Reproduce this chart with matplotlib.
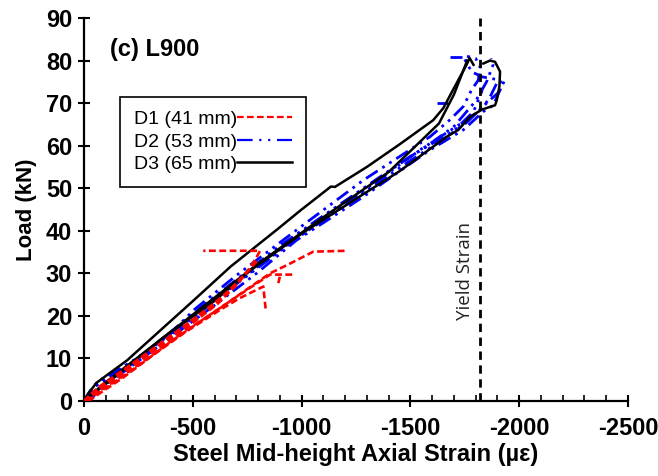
import numpy as np
import matplotlib
matplotlib.use("Agg")
import matplotlib.pyplot as plt
from matplotlib.ticker import MultipleLocator

plt.rcParams['font.family'] = ['Liberation Sans', 'DejaVu Sans']
plt.rcParams['axes.unicode_minus'] = False

# ---------------- data (strain in micro-strain, load in kN) ----------------
# D3 (65 mm) - black
d3_up_s = [0, -20, -58, -199, -505, -674, -885, -1000, -1115, -1135, -1153, -1300, -1450, -1605, -1651, -1700, -1760, -1772, -1790]
d3_up_L = [0, 1.8, 4.3, 9.6, 23.7, 31.6, 40.2, 45.0, 49.6, 50.4, 50.3, 55.0, 60.3, 66.0, 68.8, 73.5, 79.2, 80.6, 79.0]
d3_lo_s = [0, -100, -368, -594, -763, -1008, -1253, -1450, -1667, -1720, -1774, -1830, -1889, -1897, -1909, -1912, -1889, -1866, -1835]
d3_lo_L = [0, 4.0, 15.1, 23.3, 30.6, 39.6, 47.6, 54.0, 62.1, 63.7, 66.8, 68.5, 69.5, 70.7, 73.9, 77.4, 79.7, 80.0, 79.3]
d3_mid_s = [0, -90, -400, -793, -1100, -1400, -1631, -1700, -1761]
d3_mid_L = [0, 4.0, 16.3, 32.0, 43.2, 53.8, 65.2, 72.0, 80.0]

# D2 (53 mm) - blue
d2_a_s = [0, -30, -61, -230, -383, -505, -700, -977, -1284, -1590, -1680, -1743, -1781, -1812, -1820, -1800, -1760]
d2_a_L = [0, 2.5, 4.5, 9.6, 15.1, 21.4, 29.5, 40.2, 51.9, 62.1, 66.0, 69.2, 73.1, 75.4, 78.6, 80.5, 81.0]
d2_b_s = [-30, -60, -200, -400, -600, -793, -977, -1284, -1590, -1743, -1835, -1881, -1919, -1912, -1827, -1781, -1743]
d2_b_L = [0, 2.5, 7.5, 15.0, 22.5, 30.0, 37.8, 48.0, 59.0, 63.7, 68.0, 69.5, 73.9, 75.4, 76.2, 77.4, 80.9]
d2_c_s = [0, -50, -250, -500, -800, -1100, -1400, -1600, -1700, -1800, -1850, -1880, -1870]
d2_c_L = [0, 3.5, 10.0, 20.5, 32.5, 43.5, 54.0, 60.8, 64.5, 70.5, 75.0, 79.0, 80.5]
d2_d_s = [-10, -150, -450, -900, -1200, -1500, -1650, -1760, -1850, -1905, -1935, -1921]
d2_d_L = [0, 6.0, 18.0, 35.5, 46.0, 56.5, 61.5, 65.5, 70.0, 72.5, 75.5, 74.7]
d2_e_s = [0, -40, -300, -600, -900, -1200, -1500, -1700, -1790, -1830]
d2_e_L = [0, 3.0, 12.0, 24.0, 36.5, 47.0, 57.5, 63.5, 68.0, 73.0]
d2_f_s = [-20, -120, -350, -700, -1000, -1300, -1550, -1720, -1800, -1860, -1900]
d2_f_L = [0, 5.0, 13.5, 27.5, 39.0, 50.0, 59.2, 64.8, 67.5, 70.8, 75.0]
d2_h1_s = [-1620, -1673]
d2_h1_L = [70.0, 70.0]
d2_h2_s = [-1680, -1737]
d2_h2_L = [80.9, 80.9]

# D1 (41 mm) - red
d1_a_s = [0, -30, -153, -306, -460, -613, -700, -748, -790, -809, -548]
d1_a_L = [0, 1.5, 5.7, 11.2, 16.8, 22.8, 27.2, 30.2, 33.5, 35.3, 35.3]
d1_b_s = [0, -150, -306, -460, -625, -750, -855, -947, -1054, -1207]
d1_b_L = [0, 5.0, 10.5, 16.3, 21.8, 26.3, 30.0, 32.3, 35.1, 35.3]
d1_c_s = [-20, -180, -400, -600, -760, -855, -970]
d1_c_L = [0, 5.5, 14.0, 21.0, 26.5, 29.7, 29.7]
d1_c2_s = [-900, -893]
d1_c2_L = [29.2, 27.7]
d1_d_s = [-10, -200, -460, -625, -717, -824, -836]
d1_d_L = [0, 6.5, 16.0, 21.4, 24.2, 26.9, 21.0]
d1_e_s = [0, -100, -300, -500, -650, -760]
d1_e_L = [0, 4.0, 11.5, 19.0, 25.0, 31.0]
d1_f_s = [0, -60, -250, -450, -600, -700, -780, -800]
d1_f_L = [0, 3.0, 9.8, 17.2, 23.0, 27.5, 32.0, 33.2]

yield_strain = -1820
x_ticks = [0, -500, -1000, -1500, -2000, -2500]
y_ticks = [0, 10, 20, 30, 40, 50, 60, 70, 80, 90]
labels = ["D1 (41 mm)", "D2 (53 mm)", "D3 (65 mm)"]

# ---------------- plot ----------------
fig = plt.figure(figsize=(6.58, 4.76), dpi=100)
ax = fig.add_axes([84/658, 75/476, 544/658, 383/476])

red_ls = dict(color='#ff0000', lw=1.9, dashes=(2.6, 1.3))
blue_ls = dict(color='#0000ff', lw=2.0, dashes=(5, 2, 1, 2, 1, 2))
black_ls = dict(color='black', lw=1.8)

for s, L in [(d1_a_s, d1_a_L), (d1_b_s, d1_b_L), (d1_c_s, d1_c_L), (d1_c2_s, d1_c2_L),
             (d1_d_s, d1_d_L), (d1_e_s, d1_e_L), (d1_f_s, d1_f_L)]:
    ax.plot(s, L, **red_ls, zorder=3)
for s, L in [(d2_a_s, d2_a_L), (d2_b_s, d2_b_L), (d2_c_s, d2_c_L), (d2_d_s, d2_d_L),
             (d2_e_s, d2_e_L), (d2_f_s, d2_f_L), (d2_h1_s, d2_h1_L), (d2_h2_s, d2_h2_L)]:
    ax.plot(s, L, **blue_ls, zorder=2)
for s, L in [(d3_up_s, d3_up_L), (d3_lo_s, d3_lo_L), (d3_mid_s, d3_mid_L)]:
    ax.plot(s, L, **black_ls, zorder=2)

h1, = ax.plot([], [], color='#ff0000', lw=1.6, dashes=(3, 1.5))
h2, = ax.plot([], [], color='#0000ff', lw=1.6, dashes=(7, 3, 1, 3, 1, 3))
h3, = ax.plot([], [], **black_ls)

ax.axvline(yield_strain, color='black', lw=2, dashes=(3, 2), zorder=4)
ax.text(yield_strain + 68, 30.5, "Yield Strain", rotation=90, ha='center', va='center',
        fontsize=13.5, family=['Open Sans', 'DejaVu Sans'], color='#222222')
ax.text(-120, 82.5, "(c) L900", fontsize=17, fontweight='bold', ha='left', va='center')

leg = ax.legend([h1, h2, h3], labels, loc='upper left', bbox_to_anchor=(0.066, 0.794),
                borderaxespad=0, markerfirst=False, handlelength=2.85, handletextpad=0.0,
                fontsize=14, labelspacing=0.25, fancybox=False, framealpha=1,
                borderpad=0.7, edgecolor='black')
leg.get_frame().set_linewidth(1.2)

ax.set_xlim(0, -2500)
ax.set_ylim(0, 90)
ax.set_xticks(x_ticks)
ax.set_xticklabels([str(v) for v in x_ticks])
ax.set_yticks(y_ticks)
ax.xaxis.set_minor_locator(MultipleLocator(100))

for sp in ['top', 'right']:
    ax.spines[sp].set_visible(False)
for sp in ['left', 'bottom']:
    ax.spines[sp].set_linewidth(1.6)

ax.tick_params(axis='both', which='major', direction='inout', length=9, width=1.5,
               labelsize=17, pad=4)
ax.tick_params(axis='x', which='major', pad=7)
ax.tick_params(axis='x', which='minor', direction='in', length=4, width=1.2)
for lab in ax.get_xticklabels() + ax.get_yticklabels():
    lab.set_fontweight('bold')

ax.set_xlabel("Steel Mid-height Axial Strain (µε)", fontsize=17, fontweight='bold', labelpad=2)
ax.set_ylabel("Load (kN)", fontsize=16, fontweight='bold', labelpad=6)

fig.savefig("out.png", dpi=100)
